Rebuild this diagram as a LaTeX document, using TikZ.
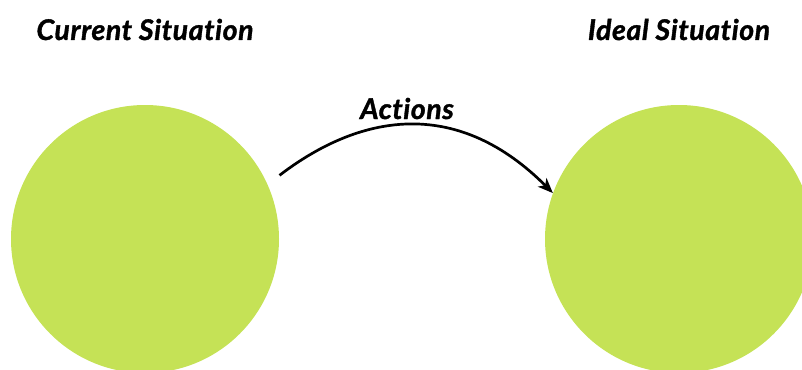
\documentclass[tikz,border=0pt]{standalone}
\usepackage{fontspec}
\setmainfont{Lato}[Ligatures=NoCommon,BoldItalicFeatures={FakeBold=1.2,LetterSpace=2}]
\usetikzlibrary{arrows.meta}
\definecolor{leaf}{RGB}{197,226,86}
\begin{document}
\begin{tikzpicture}[x=1pt,y=-1pt,
  blob/.style={circle,fill=leaf,draw=none,minimum size=268pt,inner sep=0pt},
  heading/.style={font=\fontsize{28.5}{30}\selectfont\bfseries\itshape,inner sep=0pt,anchor=base},
  flow/.style={line width=2.7pt,-{Stealth[length=15pt,width=12pt,inset=4pt]}}]
  \useasboundingbox (0,0) rectangle (802,369);
  \clip (0,0) rectangle (802,369);
  \node[blob] (cur) at (145,239) {};
  \node[blob] (ideal) at (679,239) {};
  \node[heading] (curlbl) at (145,40) {Current Situation};
  \node[heading] (ideallbl) at (679,40) {Ideal Situation};
  \node[heading] (actlbl) at (407,119) {Actions};
  \draw[flow,shorten <=15pt] (cur.24) .. controls (365,110) and (460,100) .. (ideal.160);
\end{tikzpicture}
\end{document}
